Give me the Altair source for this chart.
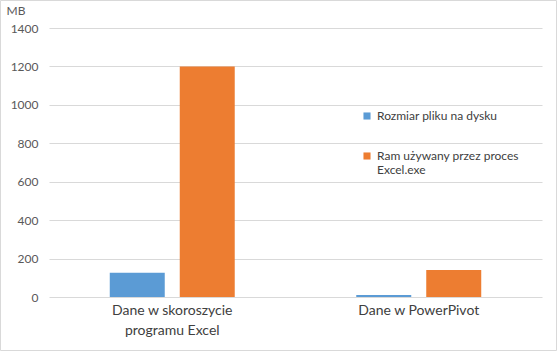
import altair as alt
import pandas as pd

categories = ["Dane w skoroszycie programu Excel", "Dane w PowerPivot"]
series = ["Rozmiar pliku na dysku", "Ram używany przez proces Excel.exe"]
file_size = [126, 10]
ram_used = [1200, 140]
y_ticks = [0, 200, 400, 600, 800, 1000, 1200, 1400]

rows = []
for i, c in enumerate(categories):
    rows.append({"kategoria": c, "seria": series[0], "wartosc": file_size[i]})
    rows.append({"kategoria": c, "seria": series[1], "wartosc": ram_used[i]})
df = pd.DataFrame(rows)

FONT = "Lato"

bars = alt.Chart(df).mark_bar().encode(
    x=alt.X("kategoria:N", sort=categories,
            scale=alt.Scale(paddingInner=0.489, paddingOuter=0.2445),
            axis=alt.Axis(title=None, labelAngle=0, domain=False, ticks=False,
                          labelFont=FONT, labelFontSize=14, labelColor="#404040",
                          labelPadding=6, labelLineHeight=20,
                          labelExpr="datum.value == 'Dane w skoroszycie programu Excel' ? ['Dane w skoroszycie', 'programu Excel'] : datum.value")),
    xOffset=alt.XOffset("seria:N", sort=series,
                        scale=alt.Scale(paddingInner=0.2143, paddingOuter=0.007)),
    y=alt.Y("wartosc:Q", scale=alt.Scale(domain=[0, 1400], nice=False),
            axis=alt.Axis(values=y_ticks, format="d", title="MB", titleAngle=0, titleX=-43, titleY=-11,
                          titleAlign="left", titleFont=FONT, titleFontSize=12,
                          titleFontWeight="normal", titleColor="#595959",
                          domain=False, ticks=False, labelPadding=11,
                          labelFont=FONT, labelFontSize=12, labelColor="#595959",
                          gridColor="#d9d9d9")),
    color=alt.Color("seria:N", sort=series,
                    scale=alt.Scale(domain=series, range=["#5B9BD5", "#ED7D31"]),
                    legend=alt.Legend(title=None, orient="none", legendX=312, legendY=82,
                                      symbolType="square", symbolSize=50, symbolStrokeWidth=0,
                                      labelFont=FONT, labelFontSize=12, labelColor="#404040",
                                      labelLimit=300, rowPadding=28,
                                      labelExpr="datum.label == 'Ram używany przez proces Excel.exe' ? ['Ram używany przez proces', 'Excel.exe'] : datum.label")),
)

border = alt.Chart(pd.DataFrame({"a": [0]})).mark_rect(
    fill=None, stroke="#d9d9d9", strokeWidth=1, clip=False
).encode(x=alt.value(-48.5), x2=alt.value(507.5), y=alt.value(-27.5), y2=alt.value(322.5))

chart = alt.layer(bars, border).properties(
    width=493, height=269,
    autosize=alt.AutoSizeParams(type="none"),
    padding={"left": 49, "top": 28, "right": 15, "bottom": 54},
    background="white",
).configure_view(stroke=None)

chart.save("out.html", embed_options={"renderer": "svg", "actions": False})
